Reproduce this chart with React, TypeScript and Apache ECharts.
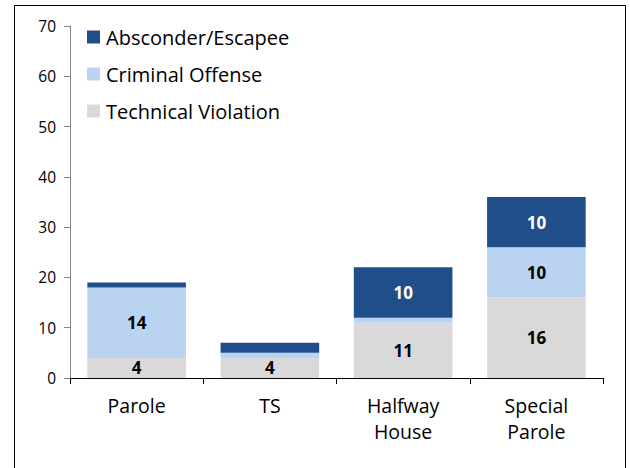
import React, { useEffect, useRef } from "react";
import * as echarts from "echarts";

const categories = ["Parole", "TS", "Halfway\nHouse", "Special\nParole"];
const technicalViolation = [4, 4, 11, 16];
const criminalOffense = [14, 1, 1, 10];
const absconderEscapee = [1, 2, 10, 10];
const yTicks = { min: 0, max: 70, interval: 10 };

const FONT = "'Open Sans', Lato, sans-serif";

export default function App() {
  const ref = useRef<HTMLDivElement>(null);
  useEffect(() => {
    const chart = echarts.init(ref.current!, null, { renderer: "svg" });
    const label = (color: string) => ({
      show: true,
      position: "inside" as const,
      color,
      fontFamily: FONT,
      fontWeight: "bold" as const,
      fontSize: 17,
      formatter: (p: any) => (p.value >= 3 ? String(p.value) : ""),
    });
    chart.setOption({
      animation: false,
      backgroundColor: "#ffffff",
      graphic: [
        {
          type: "rect",
          shape: { x: 14.5, y: 5.5, width: 611, height: 480 },
          style: { fill: "none", stroke: "#000", lineWidth: 1 },
          silent: true,
        },
      ],
      legend: {
        orient: "vertical",
        left: 82,
        top: 22,
        itemWidth: 13,
        itemHeight: 13,
        itemGap: 17,
        icon: "rect",
        data: ["Absconder/Escapee", "Criminal Offense", "Technical Violation"],
        textStyle: { fontFamily: FONT, fontSize: 20, color: "#000", padding: [0, 0, 0, 1] },
      },
      grid: { left: 70, right: 27, top: 26, bottom: 90 },
      xAxis: {
        type: "category",
        data: categories,
        axisLine: { lineStyle: { color: "#000", width: 1 } },
        axisTick: { show: true, alignWithLabel: false, length: 6, lineStyle: { color: "#000" } },
        axisLabel: {
          fontFamily: FONT,
          fontSize: 19.5,
          color: "#000",
          lineHeight: 26,
          margin: 14,
        },
      },
      yAxis: {
        type: "value",
        min: yTicks.min,
        max: yTicks.max,
        interval: yTicks.interval,
        splitLine: { show: false },
        axisLine: { show: true, lineStyle: { color: "#868686" } },
        axisTick: { show: true, inside: false, length: 6, lineStyle: { color: "#868686" } },
        axisLabel: { fontFamily: FONT, fontSize: 15.5, color: "#000", margin: 14 },
      },
      series: [
        {
          name: "Technical Violation",
          type: "bar",
          stack: "total",
          barWidth: "74%",
          data: technicalViolation,
          itemStyle: { color: "#D9D9D9" },
          label: label("#000"),
        },
        {
          name: "Criminal Offense",
          type: "bar",
          stack: "total",
          data: criminalOffense,
          itemStyle: { color: "#B9D3F1" },
          label: label("#000"),
        },
        {
          name: "Absconder/Escapee",
          type: "bar",
          stack: "total",
          data: absconderEscapee,
          itemStyle: { color: "#1F4E8A" },
          label: label("#fff"),
        },
      ],
    });
    return () => chart.dispose();
  }, []);
  return <div ref={ref} style={{ width: 630, height: 468, position: "absolute", left: 0, top: 0 }} />;
}
